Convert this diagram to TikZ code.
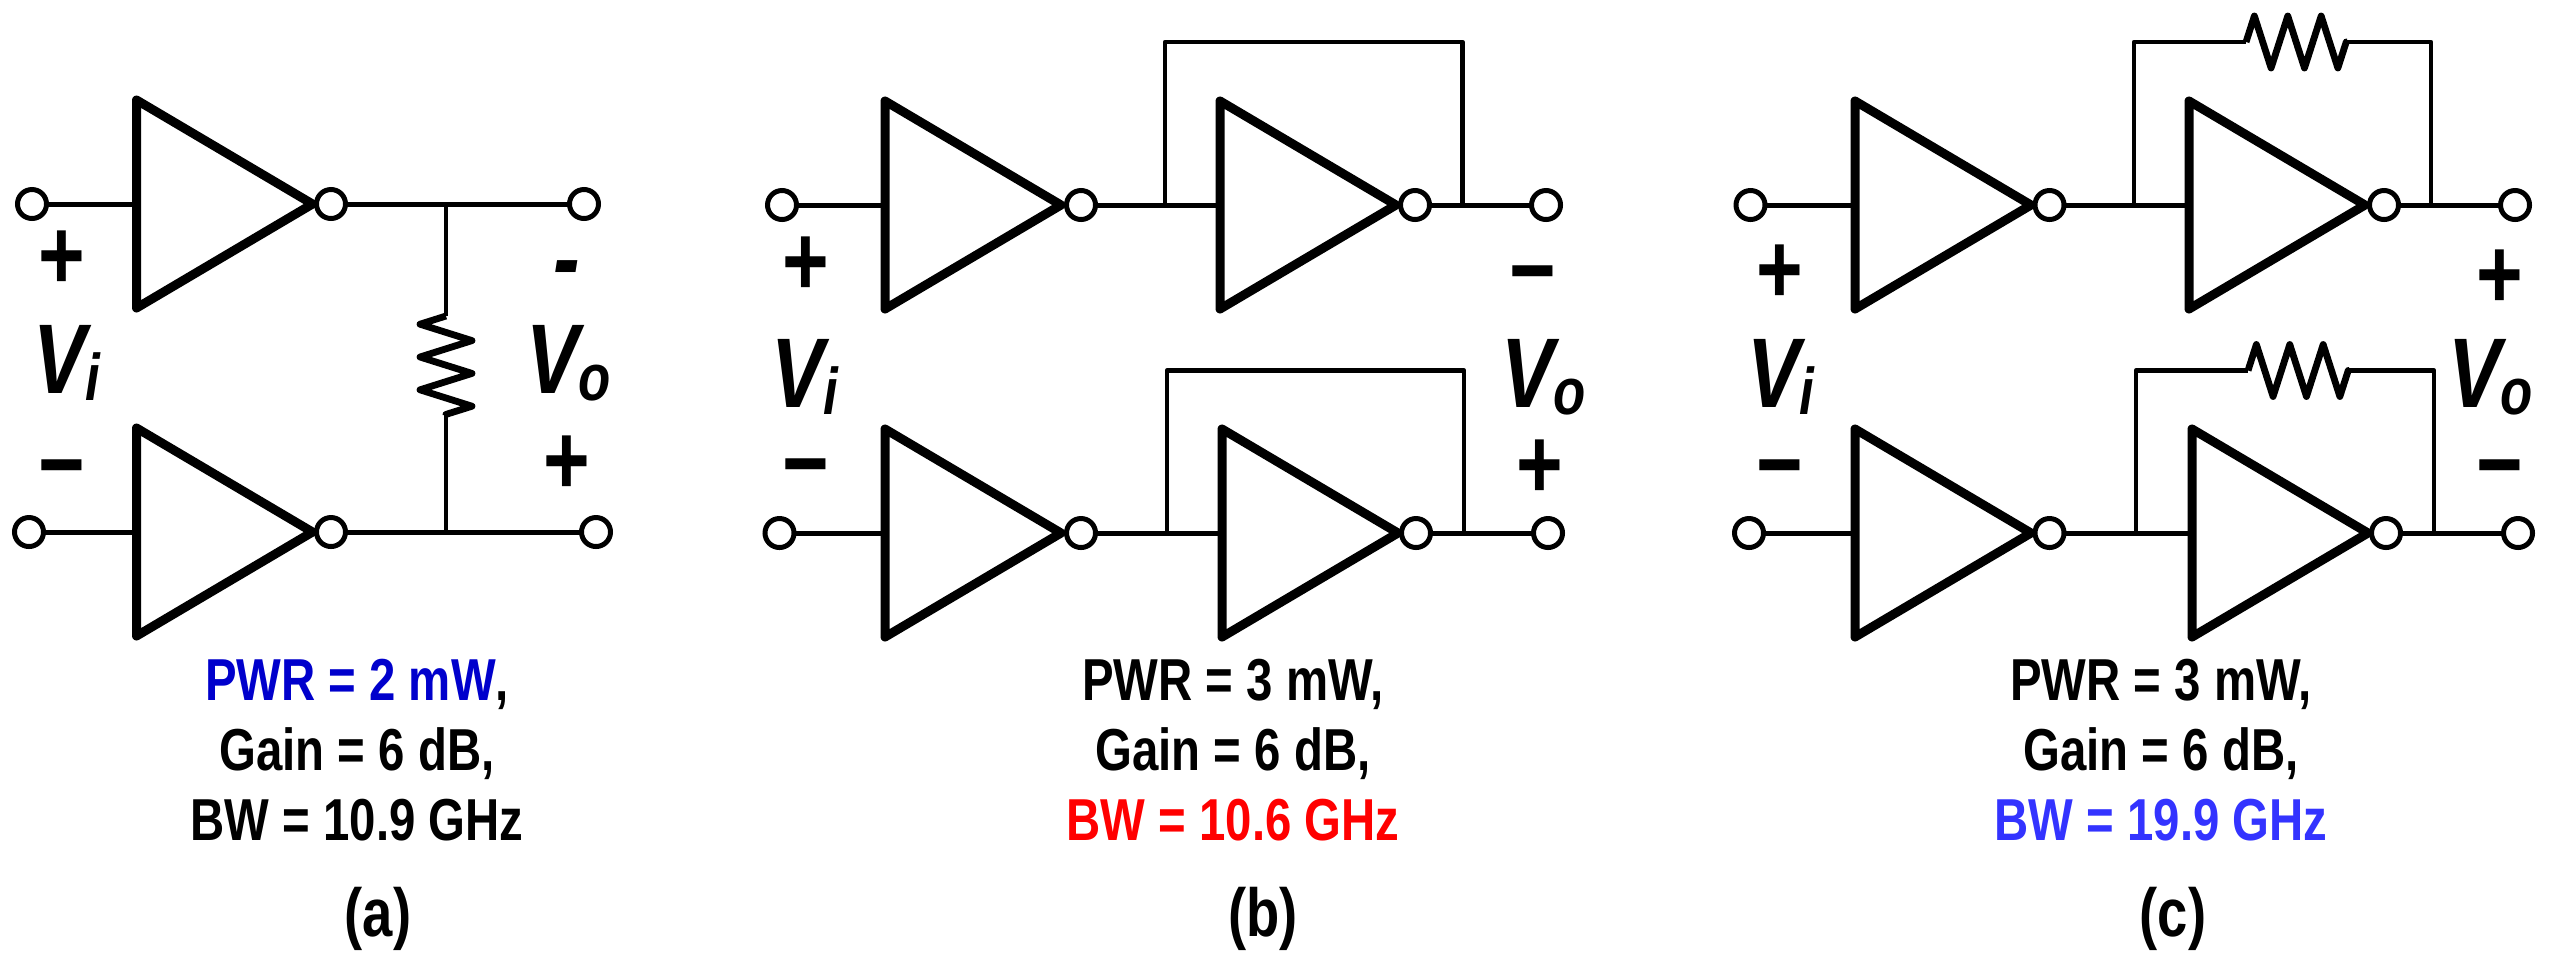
\documentclass[tikz,border=0pt]{standalone}
\usepackage{fontspec}
\setmainfont[FakeStretch=0.8]{Liberation Sans}
\usetikzlibrary{shapes.geometric, decorations.pathmorphing}

\definecolor{pwrblue}{HTML}{0000CC}
\definecolor{bwblue}{HTML}{3333FF}
\newcommand{\vsub}[1]{V\kern-0.5pt\raisebox{-3.5pt}{\fontsize{33}{33}\selectfont #1}}

\tikzset{
    inv/.style={isosceles triangle, isosceles triangle stretches, draw, line width=4.5pt, line join=round,
        minimum height=88pt, minimum width=104pt, inner sep=0pt, outer sep=0pt, anchor=lower side},
    pin/.style={circle, draw, fill=white, line width=2.5pt, minimum size=14.5pt, inner sep=0pt, outer sep=0pt},
    wire/.style={line width=2.5pt},
    fb/.style={line width=2.3pt, line join=round},
    res/.style={line width=3.4pt, line join=round, decorate, decoration={zigzag, amplitude=13pt, segment length=#1}},
    psign/.style={inner sep=0pt, yshift=-2pt, font=\fontsize{50}{50}\selectfont\bfseries},
    msign/.style={inner sep=0pt, yshift=-7pt, font=\fontsize{50}{50}\selectfont\bfseries},
    vlab/.style={inner sep=0pt, anchor=base west, font=\fontsize{49.5}{50}\selectfont\bfseries\itshape},
    spec/.style={inner sep=0pt, align=center, font=\fontsize{29.6}{35}\selectfont\bfseries},
    tag/.style={inner sep=0pt, font=\fontsize{34}{34}\selectfont\bfseries}
}

\begin{document}
\begin{tikzpicture}[x=0.5pt, y=-0.5pt]
    \useasboundingbox (0,0) rectangle (2552,971);

    % Panel a
    \node[inv] (ta1) at (136.5,204) {};
    \node[inv] (ta2) at (136.5,532) {};
    \node[pin] (ia1) at (32,204) {};
    \node[pin] (ia2) at (29,532) {};
    \node[pin] (oa1) at (331,204) {};
    \node[pin] (oa2) at (331,532) {};
    \node[pin] (pa1) at (584,204) {};
    \node[pin] (pa2) at (596,532) {};
    \coordinate (ja1) at (446,204);
    \coordinate (ja2) at (446,532);
    \coordinate (ra1) at (446,316);
    \coordinate (ra2) at (446,415);

    \draw[wire] (ia1) -- (ta1.lower side);
    \draw[wire] (ia2) -- (ta2.lower side);
    \draw[wire] (oa1) -- (pa1);
    \draw[wire] (oa2) -- (pa2);
    \draw[fb] (ja1) -- (ra1);
    \draw[fb] (ra2) -- (ja2);
    \draw[res=16.4pt, decoration={mirror}] (ra1) -- (ra2);

    \node[psign] (sa1) at (62,256) {+};
    \node[msign] (sa2) at (62,465) {−};
    \node[msign] (sa3) at (567,263) {\itshape -};
    \node[psign] (sa4) at (567,461) {+};
    \node[vlab] (va1) at (33,393) {\vsub{i}};
    \node[vlab] (va2) at (526,393) {\vsub{o}};
    \node[spec] (ca) at (357,750) {\textcolor{pwrblue}{PWR = 2 mW},\\Gain = 6 dB,\\BW = 10.9 GHz};
    \node[tag] (la) at (378,919) {(a)};

    % Panel b
    \node[inv] (tb1) at (885,205) {};
    \node[inv] (tb2) at (885,533) {};
    \node[inv] (ub1) at (1220,205) {};
    \node[inv] (ub2) at (1222,533) {};
    \node[pin] (ib1) at (782,205) {};
    \node[pin] (ib2) at (779.5,533) {};
    \node[pin] (ob1) at (1081,205) {};
    \node[pin] (ob2) at (1081,533) {};
    \node[pin] (qb1) at (1415,205) {};
    \node[pin] (qb2) at (1416,533) {};
    \node[pin] (pb1) at (1546,205) {};
    \node[pin] (pb2) at (1548,533) {};
    \coordinate (jb1) at (1165,205);
    \coordinate (jb2) at (1167,533);
    \coordinate (kb1) at (1462.5,205);
    \coordinate (kb2) at (1464,533);
    \coordinate (cb1) at (1165,42);
    \coordinate (cb2) at (1167,370.5);
    \coordinate (db1) at (1462.5,42);
    \coordinate (db2) at (1464,370.5);

    \draw[wire] (ib1) -- (tb1.lower side);
    \draw[wire] (ib2) -- (tb2.lower side);
    \draw[wire] (ob1) -- (ub1.lower side);
    \draw[wire] (ob2) -- (ub2.lower side);
    \draw[wire] (qb1) -- (pb1);
    \draw[wire] (qb2) -- (pb2);
    \draw[fb] (jb1) -- (cb1) -- (db1) -- (kb1);
    \draw[fb] (jb2) -- (cb2) -- (db2) -- (kb2);

    \node[psign] (sb1) at (806,262) {+};
    \node[msign] (sb2) at (806,464) {−};
    \node[msign] (sb3) at (1533,271) {−};
    \node[psign] (sb4) at (1540,465) {+};
    \node[vlab] (vb1) at (771,407) {\vsub{i}};
    \node[vlab] (vb2) at (1501,407) {\vsub{o}};
    \node[spec] (cb) at (1233,750) {PWR = 3 mW,\\Gain = 6 dB,\\\textcolor{red}{BW = 10.6 GHz}};
    \node[tag] (lb) at (1263,919) {(b)};

    % Panel c
    \node[inv] (tc1) at (1855,205) {};
    \node[inv] (tc2) at (1855,533) {};
    \node[inv] (uc1) at (2189,205) {};
    \node[inv] (uc2) at (2192,533) {};
    \node[pin] (ic1) at (1750.5,205) {};
    \node[pin] (ic2) at (1749,533) {};
    \node[pin] (oc1) at (2049.5,205) {};
    \node[pin] (oc2) at (2049.5,533) {};
    \node[pin] (qc1) at (2384,205) {};
    \node[pin] (qc2) at (2386,533) {};
    \node[pin] (pc1) at (2515,205) {};
    \node[pin] (pc2) at (2518,533) {};
    \coordinate (jc1) at (2134,205);
    \coordinate (jc2) at (2136,533);
    \coordinate (kc1) at (2431,205);
    \coordinate (kc2) at (2434,533);
    \coordinate (cc1) at (2134,42);
    \coordinate (cc2) at (2136,370.5);
    \coordinate (dc1) at (2431,42);
    \coordinate (dc2) at (2434,370.5);
    \coordinate (rc1) at (2246,42);
    \coordinate (rc2) at (2347,42);
    \coordinate (rc3) at (2248,370.5);
    \coordinate (rc4) at (2349,370.5);

    \draw[wire] (ic1) -- (tc1.lower side);
    \draw[wire] (ic2) -- (tc2.lower side);
    \draw[wire] (oc1) -- (uc1.lower side);
    \draw[wire] (oc2) -- (uc2.lower side);
    \draw[wire] (qc1) -- (pc1);
    \draw[wire] (qc2) -- (pc2);
    \draw[fb] (jc1) -- (cc1) -- (rc1);
    \draw[fb] (rc2) -- (dc1) -- (kc1);
    \draw[fb] (jc2) -- (cc2) -- (rc3);
    \draw[fb] (rc4) -- (dc2) -- (kc2);
    \draw[res=16.7pt] (rc1) -- (rc2);
    \draw[res=16.7pt] (rc3) -- (rc4);

    \node[psign] (sc1) at (1780,270) {+};
    \node[msign] (sc2) at (1780,465) {−};
    \node[psign] (sc3) at (2500,275) {+};
    \node[msign] (sc4) at (2500,465) {−};
    \node[vlab] (vc1) at (1747,407) {\vsub{i}};
    \node[vlab] (vc2) at (2448,407) {\vsub{o}};
    \node[spec] (cc) at (2161,750) {PWR = 3 mW,\\Gain = 6 dB,\\\textcolor{bwblue}{BW = 19.9 GHz}};
    \node[tag] (lc) at (2173,919) {(c)};
\end{tikzpicture}
\end{document}
